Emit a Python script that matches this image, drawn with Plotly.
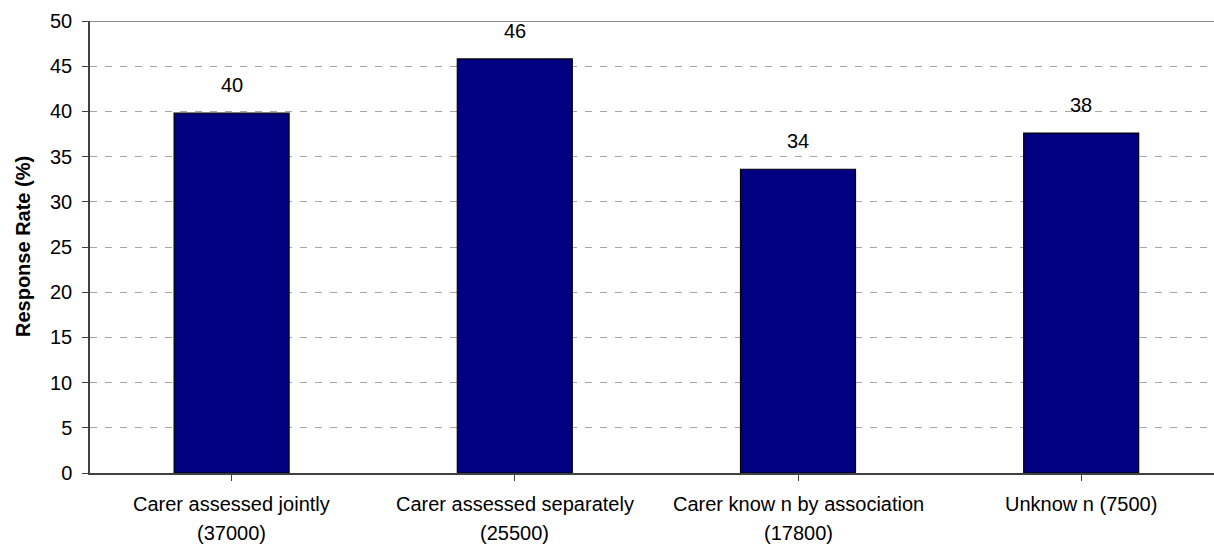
import plotly.graph_objects as go

# Response rate by carer assessment group
label_line1 = ["Carer assessed jointly", "Carer assessed separately",
               "Carer know n by association", "Unknow n (7500)"]
label_line2 = ["(37000)", "(25500)", "(17800)", ""]
response_rate = [39.8, 45.8, 33.6, 37.6]
y_ticks = [0, 5, 10, 15, 20, 25, 30, 35, 40, 45, 50]

FONT = "Arial, Liberation Sans, sans-serif"
FS = 20
positions = list(range(len(response_rate)))

fig = go.Figure(
    go.Bar(
        x=positions,
        y=response_rate,
        marker=dict(color="#000080", line=dict(color="#000000", width=1.2)),
        width=0.406,
        hoverinfo="skip",
    )
)

annotations = []
# value labels above each bar
for x, v in zip(positions, response_rate):
    annotations.append(dict(
        x=x, y=v, xref="x", yref="y", text=f"{v:.0f}", showarrow=False,
        yanchor="middle", yshift=28, font=dict(family=FONT, size=FS, color="#000"),
    ))
# two-line category labels under the axis
for x, l1, l2 in zip(positions, label_line1, label_line2):
    annotations.append(dict(
        x=x, y=0, xref="x", yref="paper", text=l1, showarrow=False,
        yanchor="middle", yshift=-31, font=dict(family=FONT, size=FS, color="#000"),
    ))
    if l2:
        annotations.append(dict(
            x=x, y=0, xref="x", yref="paper", text=l2, showarrow=False,
            yanchor="middle", yshift=-60, font=dict(family=FONT, size=FS, color="#000"),
        ))
# rotated axis title
annotations.append(dict(
    x=0, y=0.5, xref="paper", yref="paper", text="<b>Response Rate (%)</b>",
    showarrow=False, textangle=-90, xanchor="center", yanchor="middle", xshift=-67,
    font=dict(family=FONT, size=FS, color="#000"),
))

fig.update_layout(
    width=1214, height=545,
    margin=dict(l=90, r=0, t=21, b=72),
    paper_bgcolor="white", plot_bgcolor="white",
    showlegend=False,
    font=dict(family=FONT, size=FS, color="#000"),
    annotations=annotations,
    shapes=[dict(type="line", xref="paper", yref="y", x0=0, x1=1, y0=50, y1=50,
                 line=dict(color="#8c8c8c", width=2))],
    xaxis=dict(
        range=[-0.5, -0.5 + 1124 / 283.2],
        tickmode="array", tickvals=positions, ticktext=["" for _ in positions],
        tickson="boundaries", ticks="outside", ticklen=6, tickcolor="#404040",
        showline=True, linecolor="#404040", linewidth=1.5,
        showgrid=False, zeroline=False, fixedrange=True,
    ),
    yaxis=dict(
        range=[0, 50], tickmode="array", tickvals=y_ticks,
        ticks="outside", ticklen=6, tickcolor="#404040", ticklabelstandoff=6,
        showline=True, linecolor="#404040", linewidth=1.5,
        showgrid=True, gridcolor="#a6a6a6", gridwidth=1, griddash="7px,8px",
        zeroline=False, tickfont=dict(family=FONT, size=FS, color="#000"),
        fixedrange=True,
    ),
)

fig.write_html("out.html")
